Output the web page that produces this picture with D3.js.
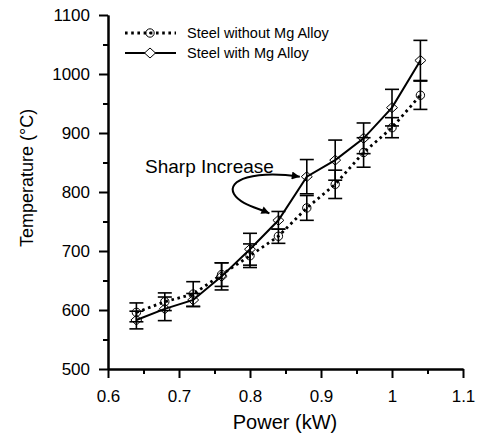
<!DOCTYPE html>
<html>
<head>
<meta charset="utf-8">
<script src="https://cdn.jsdelivr.net/npm/d3@7"></script>
<style>
  html, body { margin: 0; padding: 0; background: #fff; }
  svg { display: block; font-family: "Liberation Sans", Arial, sans-serif; }
</style>
</head>
<body>
<svg id="chart" width="482" height="437"></svg>
<script>
// ---- data ----
const power = [0.64, 0.68, 0.72, 0.76, 0.80, 0.84, 0.88, 0.92, 0.96, 1.00, 1.04];
const tempWithout = [596, 614, 627, 660, 692, 725, 773, 813, 867, 909, 964];
const errWithout  = [16, 15, 21, 20, 20, 12, 21, 24, 25, 17, 24];
const tempWith    = [583, 602, 617, 657, 703, 752, 826, 854, 891, 943, 1023];
const errWith     = [15, 20, 11, 23, 27, 15, 29, 34, 26, 31, 34];
const xTicks = [0.6, 0.7, 0.8, 0.9, 1.0, 1.1];
const xTickLabels = ["0.6", "0.7", "0.8", "0.9", "1", "1.1"];
const yTicks = [500, 600, 700, 800, 900, 1000, 1100];
const yTickLabels = ["500", "600", "700", "800", "900", "1000", "1100"];
const seriesNames = ["Steel without Mg Alloy", "Steel with Mg Alloy"];
const annotationText = "Sharp Increase";

// ---- layout ----
const svg = d3.select("#chart");
const x = d3.scaleLinear().domain([0.6, 1.1]).range([108, 463]);
const y = d3.scaleLinear().domain([500, 1100]).range([369, 15]);

// axes
const xAxis = d3.axisBottom(x).tickValues(xTicks)
  .tickFormat((d, i) => xTickLabels[i]).tickSize(9).tickPadding(12).tickSizeOuter(0);
const xMinor = d3.axisBottom(x).tickValues([0.65, 0.75, 0.85, 0.95, 1.05])
  .tickFormat("").tickSize(5).tickSizeOuter(0);
const yAxis = d3.axisLeft(y).tickValues(yTicks)
  .tickFormat((d, i) => yTickLabels[i]).tickSize(9).tickPadding(9).tickSizeOuter(0);
const yMinor = d3.axisLeft(y).tickValues([550, 650, 750, 850, 950, 1050])
  .tickFormat("").tickSize(5).tickSizeOuter(0);

function styleAxis(g) {
  g.select(".domain").attr("stroke", "#000").attr("stroke-width", 2);
  g.selectAll(".tick line").attr("stroke", "#000").attr("stroke-width", 2);
  g.selectAll(".tick text").attr("fill", "#000").attr("font-size", 17)
    .attr("font-family", "Liberation Sans, Arial, sans-serif");
}
svg.append("g").attr("transform", `translate(0,${y(500)})`).call(xMinor).call(styleAxis);
svg.append("g").attr("transform", `translate(0,${y(500)})`).call(xAxis).call(styleAxis);
svg.append("g").attr("transform", `translate(${x(0.6)},0)`).call(yMinor).call(styleAxis);
svg.append("g").attr("transform", `translate(${x(0.6)},0)`).call(yAxis).call(styleAxis);

// axis titles
svg.append("text").attr("x", 285).attr("y", 429).attr("text-anchor", "middle")
  .attr("font-size", 20).attr("fill", "#000").text("Power (kW)");
svg.append("text").attr("transform", "translate(33,178) rotate(-90)")
  .attr("text-anchor", "middle").attr("font-size", 18).attr("fill", "#000")
  .text("Temperature (\u00B0C)");

const dataWithout = power.map((p, i) => ({ x: p, y: tempWithout[i], e: errWithout[i] }));
const dataWith = power.map((p, i) => ({ x: p, y: tempWith[i], e: errWith[i] }));

// error bars
function errorBars(data) {
  const g = svg.append("g").attr("stroke", "#000").attr("stroke-width", 1.6);
  data.forEach(d => {
    g.append("line").attr("x1", x(d.x)).attr("x2", x(d.x))
      .attr("y1", y(d.y - d.e)).attr("y2", y(d.y + d.e));
    [d.y - d.e, d.y + d.e].forEach(v => {
      g.append("line").attr("x1", x(d.x) - 7).attr("x2", x(d.x) + 7)
        .attr("y1", y(v)).attr("y2", y(v));
    });
  });
}
errorBars(dataWithout);
errorBars(dataWith);

// lines
const line = d3.line().x(d => x(d.x)).y(d => y(d.y));
svg.append("path").datum(dataWithout).attr("d", line).attr("fill", "none")
  .attr("stroke", "#000").attr("stroke-width", 2.8).attr("stroke-dasharray", "2.6,3.6");
svg.append("path").datum(dataWith).attr("d", line).attr("fill", "none")
  .attr("stroke", "#000").attr("stroke-width", 2);

// markers
function circleMarker(g, cx, cy) {
  g.append("circle").attr("cx", cx).attr("cy", cy).attr("r", 4.2)
    .attr("fill", "none").attr("stroke", "#000").attr("stroke-width", 1);
  g.append("circle").attr("cx", cx).attr("cy", cy).attr("r", 1)
    .attr("fill", "#000");
}
function diamondMarker(g, cx, cy, fill) {
  g.append("path").attr("d", `M${cx - 5.5},${cy} L${cx},${cy - 5} L${cx + 5.5},${cy} L${cx},${cy + 5} Z`)
    .attr("fill", fill || "none").attr("stroke", "#000").attr("stroke-width", 1);
}
const mg = svg.append("g");
dataWithout.forEach(d => circleMarker(mg, x(d.x), y(d.y)));
dataWith.forEach(d => diamondMarker(mg, x(d.x), y(d.y)));

// legend
const lg = svg.append("g");
lg.append("line").attr("x1", 125).attr("x2", 176).attr("y1", 33).attr("y2", 33)
  .attr("stroke", "#000").attr("stroke-width", 2.8).attr("stroke-dasharray", "2.6,3.6");
circleMarker(lg, 150, 33);
lg.append("line").attr("x1", 125).attr("x2", 176).attr("y1", 53).attr("y2", 53)
  .attr("stroke", "#000").attr("stroke-width", 2);
diamondMarker(lg, 150, 53, "#fff");
seriesNames.forEach((n, i) => {
  lg.append("text").attr("x", 187).attr("y", 33 + i * 20).attr("dy", "0.35em")
    .attr("font-size", 14.5).attr("fill", "#000").text(n);
});

// annotation
const defs = svg.append("defs");
defs.append("marker").attr("id", "ah").attr("viewBox", "0 0 10 10")
  .attr("refX", 10).attr("refY", 5).attr("markerWidth", 10).attr("markerHeight", 8)
  .attr("markerUnits", "userSpaceOnUse").attr("orient", "auto-start-reverse")
  .append("path").attr("d", "M0,0 L10,5 L0,10 Z").attr("fill", "#000");
svg.append("text").attr("x", 145).attr("y", 173).attr("font-size", 19)
  .attr("fill", "#000").text(annotationText);
const tip1 = [x(0.88) - 7, y(tempWith[6])];
const tip2 = [x(0.84) - 9, y(tempWith[5]) - 7];
svg.append("path")
  .attr("d", `M${tip1[0]},${tip1[1]} C255,170 226,180 234,194 C240,204 255,207 ${tip2[0]},${tip2[1]}`)
  .attr("fill", "none").attr("stroke", "#000").attr("stroke-width", 2)
  .attr("marker-start", "url(#ah)").attr("marker-end", "url(#ah)");
</script>
</body>
</html>
